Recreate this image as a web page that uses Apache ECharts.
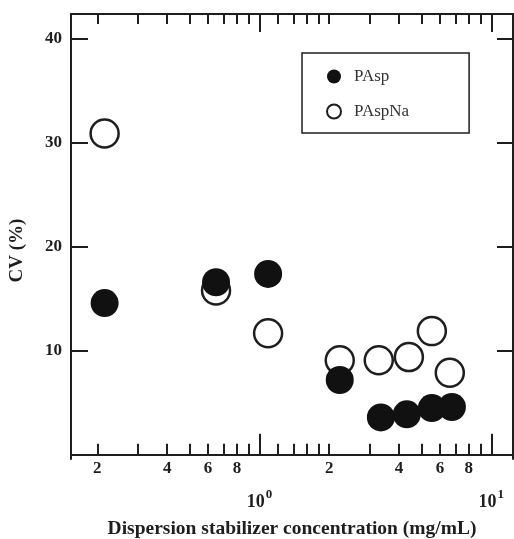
<!DOCTYPE html>
<html>
<head>
<meta charset="utf-8">
<script src="https://cdn.jsdelivr.net/npm/echarts@6/dist/echarts.min.js"></script>
<style>
  html, body { margin: 0; padding: 0; background: #fff; }
  #cv-chart { width: 514px; height: 539px; }
</style>
</head>
<body>
<div id="cv-chart"></div>
<script>
// concentration (mg/mL) and CV (%)
const paspConc = [0.215, 0.65, 1.09, 2.22, 3.34, 4.32, 5.54, 6.76];
const paspCV = [14.6, 16.6, 17.4, 7.2, 3.6, 3.9, 4.5, 4.6];
const paspNaConc = [0.215, 0.65, 1.09, 2.22, 3.27, 4.41, 5.54, 6.62];
const paspNaCV = [30.9, 15.8, 11.7, 9.1, 9.1, 9.4, 11.9, 7.9];

const majorTicks = [1, 10];
const minorTicks = [0.2, 0.3, 0.4, 0.5, 0.6, 0.7, 0.8, 0.9, 1.2, 1.4, 1.6, 1.8, 2, 3, 4, 5, 6, 7, 8, 9];
const xTickLabels = [0.2, 0.4, 0.6, 0.8, 2, 4, 6, 8];
const decadeLabels = [1, 10];
const yTicks = [10, 20, 30, 40];

const FONT = '"Liberation Serif", "DejaVu Serif", serif';
const INK = '#1e1e1e';

function toPairs(xs, ys) {
    return xs.map((x, i) => [x, ys[i]]);
}

function logAxis(position, ticks, tickLen, label) {
    return {
        type: 'log',
        position: position,
        min: 0.154,
        max: 12.4,
        axisLine: { show: true, lineStyle: { color: INK, width: 2 } },
        axisTick: {
            show: true,
            inside: true,
            length: tickLen,
            customValues: ticks,
            lineStyle: { color: INK, width: 2 }
        },
        minorTick: { show: false },
        splitLine: { show: false },
        axisLabel: label || { show: false }
    };
}

function renderChart() {
    const chart = echarts.init(document.getElementById('cv-chart'));

    const option = {
        backgroundColor: '#fff',
        animation: false,
        grid: { left: 71, right: 1, top: 14, bottom: 80, containLabel: false, outerBoundsMode: 'none' },
        legend: {
            data: ['PAsp', 'PAspNa'],
            orient: 'vertical',
            left: 302,
            top: 53,
            padding: [15, 60, 13, 24],
            itemGap: 18,
            itemWidth: 14,
            itemHeight: 14,
            borderColor: INK,
            borderWidth: 1.5,
            textStyle: { fontFamily: FONT, fontSize: 17, color: '#333', padding: [0, 0, 0, 8] }
        },
        xAxis: [
            logAxis('bottom', majorTicks, 21, {
                show: true,
                customValues: xTickLabels,
                margin: 1,
                fontFamily: FONT,
                fontSize: 17,
                fontWeight: 'bold',
                color: INK,
                formatter: v => String(v < 1 ? Math.round(v * 10) : Math.round(v))
            }),
            Object.assign(logAxis('bottom', minorTicks, 11, {
                show: true,
                customValues: decadeLabels,
                margin: 29,
                formatter: v => '{b|10}{s|' + Math.round(Math.log10(v)) + '}',
                rich: {
                    b: { fontFamily: FONT, fontSize: 18, fontWeight: 'bold', color: INK },
                    s: { fontFamily: FONT, fontSize: 13, fontWeight: 'bold', color: INK, padding: [0, 0, 16, 1] }
                }
            }), {
                name: 'Dispersion stabilizer concentration (mg/mL)',
                nameLocation: 'middle',
                nameGap: 60,
                nameTextStyle: { fontFamily: FONT, fontSize: 19.5, fontWeight: 'bold', color: INK }
            }),
            logAxis('top', majorTicks, 18),
            logAxis('top', minorTicks, 10)
        ],
        yAxis: [
            {
                type: 'value',
                min: -0.4,
                max: 42.4,
                name: 'CV (%)',
                nameLocation: 'middle',
                nameGap: 44,
                nameTextStyle: { fontFamily: FONT, fontSize: 19, fontWeight: 'bold', color: INK, padding: [0, 28, 0, 0] },
                axisLine: { show: true, lineStyle: { color: INK, width: 2 } },
                axisTick: { show: true, inside: true, length: 17, customValues: yTicks, lineStyle: { color: INK, width: 2 } },
                splitLine: { show: false },
                axisLabel: { customValues: yTicks, margin: 9, fontFamily: FONT, fontSize: 17, fontWeight: 'bold', color: INK }
            },
            {
                type: 'value',
                position: 'right',
                min: -0.4,
                max: 42.4,
                axisLine: { show: true, lineStyle: { color: INK, width: 2 } },
                axisTick: { show: true, inside: true, length: 16, customValues: yTicks, lineStyle: { color: INK, width: 2 } },
                splitLine: { show: false },
                axisLabel: { show: false }
            }
        ],
        series: [
            {
                name: 'PAspNa',
                type: 'scatter',
                symbol: 'circle',
                symbolSize: 28,
                data: toPairs(paspNaConc, paspNaCV),
                itemStyle: { color: '#fff', borderColor: INK, borderWidth: 2.5, opacity: 1 }
            },
            {
                name: 'PAsp',
                type: 'scatter',
                symbol: 'circle',
                symbolSize: 28,
                data: toPairs(paspConc, paspCV),
                itemStyle: { color: '#111', opacity: 1 }
            }
        ]
    };

    chart.setOption(option);
}

document.addEventListener('DOMContentLoaded', renderChart);
</script>
</body>
</html>
